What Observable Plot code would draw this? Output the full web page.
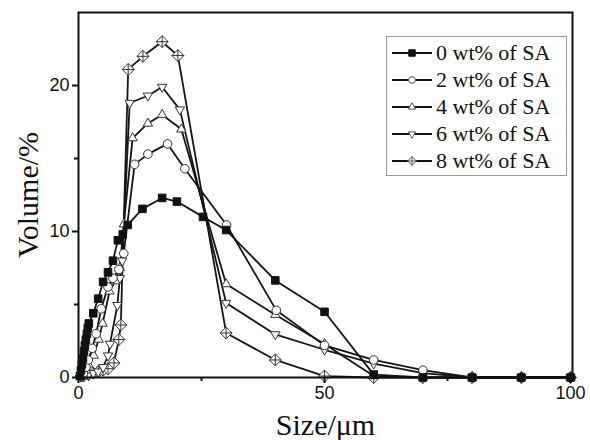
<!DOCTYPE html>
<html><head><meta charset="utf-8">
<script src="https://cdn.jsdelivr.net/npm/d3@7"></script>
<script src="https://cdn.jsdelivr.net/npm/@observablehq/plot@0.6"></script>
<style>
body{margin:0;background:#fff}
#wrap{position:relative;width:590px;height:440px}
#legend{position:absolute;left:386px;top:36px;width:181px;height:140px;border:1.5px solid #9a9a9a;box-sizing:border-box;background:#fff;font-family:"Liberation Serif",Tinos,"Times New Roman","DejaVu Serif","Noto Serif",serif;font-size:22px;color:#111;padding-top:2px}
.row{display:flex;align-items:center;height:27px;white-space:nowrap}
.row svg{margin-left:4px;margin-right:3px}
</style></head><body><div id="wrap"><div id="chart"></div><div id="legend"></div></div>
<script>
// ---- data ----
const seriesNames = ["0 wt% of SA","2 wt% of SA","4 wt% of SA","6 wt% of SA","8 wt% of SA"];

const size0 = [0.3,0.5,0.7,0.9,1.1,1.3,1.5,1.7,1.9,2.1,3,4,5,6,7,8,9,10,13,17,20,25.3,30,40,50,60,70,80,90,100];
const vol0  = [0.1,0.5,0.9,1.3,1.8,2.2,2.6,3.0,3.4,3.7,4.4,5.4,6.55,7.2,8.0,9.4,9.8,10.45,11.55,12.3,12.05,11.0,10.1,6.65,4.5,0.2,0,0,0,0];

const size2 = [0.5,1,1.5,2,2.8,3.6,4.6,6,7,8.2,9.2,11.4,14.1,18.1,21.6,30.1,40.2,50,60,70,80,90,100];
const vol2  = [0.1,0.3,0.7,1.2,2.0,3.0,4.7,6.2,6.8,7.4,8.5,14.6,15.3,16.0,14.3,10.45,4.6,2.2,1.2,0.5,0,0,0];

const size4 = [0.5,1,1.5,2,3.1,4.1,4.9,6.3,7.5,8.4,9.2,11,14.1,17,20.9,30,40,50,60,70,80,90,100];
const vol4  = [0.1,0.2,0.5,0.9,1.5,2.6,3.7,5.9,6.6,7.5,10.5,16.4,17.4,18.0,17.0,6.4,4.3,2.3,0.1,0,0,0,0];

const size6 = [0.5,1,2,3,4,5,6,6.4,7.9,8.4,8.9,10.4,14.1,17,20.6,30,40,50,60,70,80,90,100];
const vol6  = [0.05,0.1,0.2,0.3,0.4,0.7,1.5,2.3,4.95,6.8,8.0,18.8,19.3,19.9,18.35,5.1,2.95,1.9,0.95,0.3,0,0,0];

const size8 = [0.5,1,2,3,4,5,6,7.2,8.2,8.6,10.1,13.1,17,20.2,30,40,50,60,70,80,90,100];
const vol8  = [0.1,0.1,0.2,0.3,0.4,0.5,0.6,1.0,2.6,3.6,21.1,22.0,23.0,22.05,3.05,1.2,0.1,0,0,0,0,0];

const xTicks = [0,50,100], xMinor = [25,75];
const yTicks = [0,10,20], yMinor = [5,15];

const SERIF = "'Liberation Serif', Tinos, 'Times New Roman', 'DejaVu Serif', 'Noto Serif', serif";
const SANS = "'Liberation Sans', Arimo, Arial, Helvetica, 'Noto Sans', sans-serif";

// ---- symbols ----
const symSquare = {draw(c,s){const h=Math.sqrt(s/Math.PI)*0.9; c.moveTo(-h,-h);c.lineTo(h,-h);c.lineTo(h,h);c.lineTo(-h,h);c.closePath();}};
const symCircle = {draw(c,s){const r=Math.sqrt(s/Math.PI); c.moveTo(r,0); c.arc(0,0,r,0,2*Math.PI); c.closePath();}};
const symTriUp = {draw(c,s){const r=Math.sqrt(s/Math.PI)*1.25; c.moveTo(0,-r);c.lineTo(r*0.866,r*0.5);c.lineTo(-r*0.866,r*0.5);c.closePath();}};
const symTriDown = {draw(c,s){const r=Math.sqrt(s/Math.PI)*1.25; c.moveTo(0,r);c.lineTo(-r*0.866,-r*0.5);c.lineTo(r*0.866,-r*0.5);c.closePath();}};
const symDiamond = {draw(c,s){const r=Math.sqrt(s/Math.PI)*1.3; c.moveTo(0,-r);c.lineTo(r,0);c.lineTo(0,r);c.lineTo(-r,0);c.closePath();c.moveTo(0,-r);c.lineTo(0,r);c.moveTo(-r,0);c.lineTo(r,0);}};

const sizes = [size0,size2,size4,size6,size8];
const vols = [vol0,vol2,vol4,vol6,vol8];
const symbols = [symSquare,symCircle,symTriUp,symTriDown,symDiamond];
const fills = ["#111","#fff","#fff","#fff","#fff"];
const radii = [4.2,4.3,4.3,4.3,4.6];

const series = seriesNames.map((name,i)=>sizes[i].map((x,j)=>({series:name,size:x,volume:vols[i][j]})));

const drawOrder = [4,3,2,1,0];
const marks = [];
for (const i of drawOrder) {
  marks.push(Plot.line(series[i], {x:"size", y:"volume", stroke:"#151515", strokeWidth:1.8}));
}
for (const i of drawOrder) {
  marks.push(Plot.dot(series[i], {x:"size", y:"volume", symbol:()=>symbols[i], r:radii[i], fill:fills[i], stroke: i===0?"#111":"#333", strokeWidth:1}));
}

const chart = Plot.plot({
  width:590, height:440,
  marginLeft:78, marginRight:18, marginTop:12, marginBottom:63,
  style:{fontFamily:SANS, fontSize:"18px", color:"#111", background:"#fff"},
  x:{domain:[0,100.4]},
  y:{domain:[0,25]},
  symbol:{type:"identity"},
  marks:[
    ...marks,
    Plot.axisX({ticks:xTicks, tickSize:6, tickPadding:3, strokeWidth:2, label:null, fontFamily:SANS, fontSize:18}),
    Plot.axisX({ticks:xMinor, tickSize:4, tickFormat:()=>"", strokeWidth:2, label:null}),
    Plot.axisY({ticks:yTicks, tickSize:6, tickPadding:3, strokeWidth:2, label:null, fontFamily:SANS, fontSize:18}),
    Plot.axisY({ticks:yMinor, tickSize:4, tickFormat:()=>"", strokeWidth:2, label:null}),
    Plot.frame({stroke:"#111", strokeWidth:2}),
    Plot.text(["Size/μm"], {text:d=>d, frameAnchor:"bottom", dy:48, lineAnchor:"middle", textAnchor:"middle", fontFamily:SERIF, fontSize:30}),
    Plot.text(["Volume/%"], {text:d=>d, frameAnchor:"left", dx:-50, rotate:-90, lineAnchor:"middle", textAnchor:"middle", fontFamily:SERIF, fontSize:30})
  ]
});
document.getElementById("chart").appendChild(chart);

// ---- legend ----
const legend = document.getElementById("legend");
seriesNames.forEach((name,i)=>{
  const row = document.createElement("div"); row.className="row";
  const svg = d3.create("svg").attr("width",42).attr("height",20);
  svg.append("line").attr("x1",1).attr("x2",41).attr("y1",10).attr("y2",10).attr("stroke","#111").attr("stroke-width",2);
  const p = d3.path(); symbols[i].draw(p, Math.PI*(i===0?3.6:3.4)**2);
  svg.append("path").attr("d",p.toString()).attr("transform","translate(21,10)").attr("fill",fills[i]).attr("stroke",i===0?"#111":"#555").attr("stroke-width",1);
  row.appendChild(svg.node());
  const t = document.createElement("span"); t.textContent = name; row.appendChild(t);
  legend.appendChild(row);
});
</script></body></html>
